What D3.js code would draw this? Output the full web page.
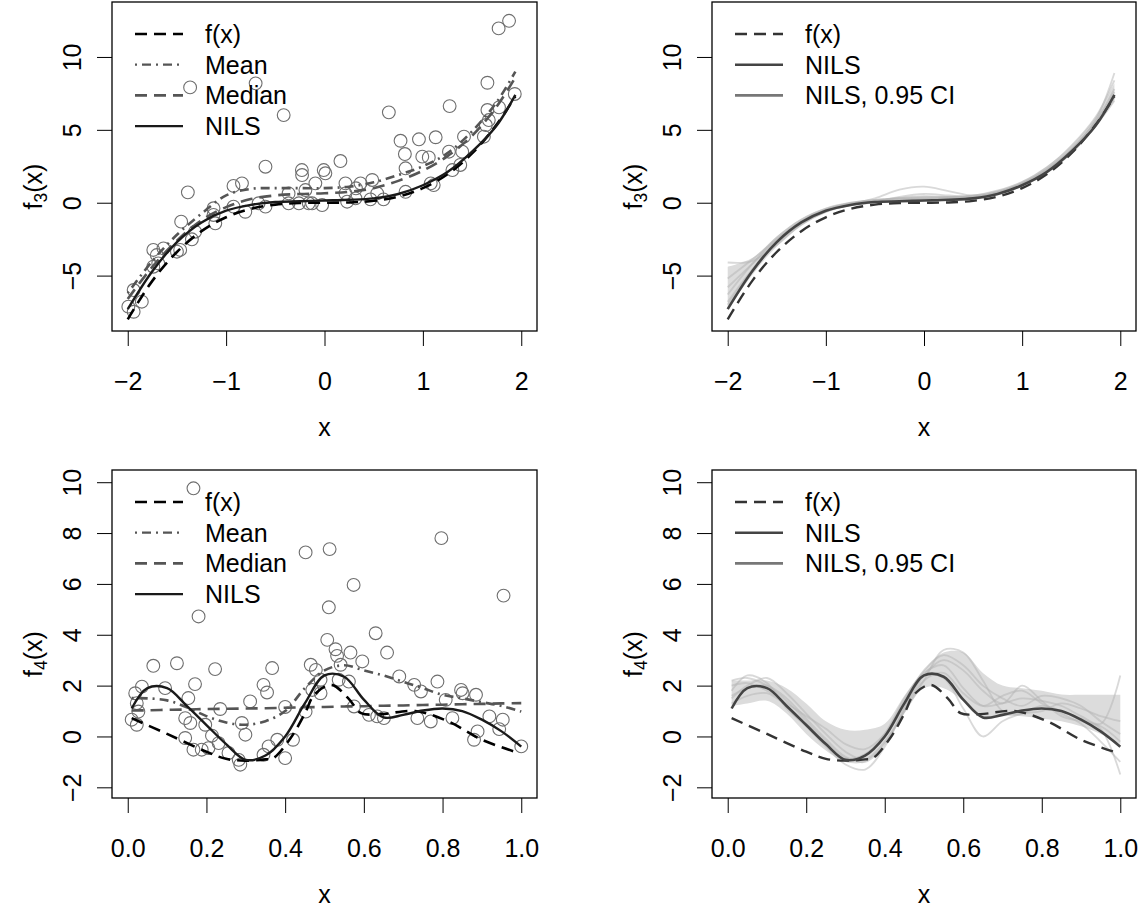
<!DOCTYPE html>
<html>
<head>
<meta charset="utf-8">
<script src="https://cdn.jsdelivr.net/npm/d3@7"></script>
<style>
  body { margin: 0; background: #fff; }
  svg text { font-family: "Liberation Sans", Arial, sans-serif; }
</style>
</head>
<body>
<script>
// ---- data: f3 panels (top row) ----
var xs3 = [-2, -1.75, -1.5, -1.25, -1, -0.75, -0.5, -0.25, 0, 0.25, 0.5, 0.75, 1, 1.25, 1.5, 1.75, 1.94];
var f3True   = [-8, -5.36, -3.38, -1.95, -1, -0.42, -0.13, -0.02, 0, 0.02, 0.13, 0.42, 1, 1.95, 3.38, 5.36, 7.3];
var f3Nils   = [-7.3, -4.7, -2.7, -1.35, -0.55, -0.15, 0.05, 0.1, 0.15, 0.2, 0.3, 0.6, 1.2, 2.1, 3.5, 5.3, 7.4];
var f3Mean   = [-6.2, -4.0, -2.2, -0.75, 0.5, 0.95, 1.0, 1.0, 1.0, 1.1, 1.4, 1.9, 2.5, 3.4, 4.9, 6.9, 9.0];
var f3Median = [-6.6, -4.4, -2.6, -1.2, -0.3, 0.25, 0.5, 0.6, 0.65, 0.75, 1.0, 1.5, 2.2, 3.2, 4.6, 6.6, 8.6];
var f3CiUpper = [-4.4, -3.8, -2.3, -1.1, -0.35, 0.05, 0.25, 0.4, 0.45, 0.45, 0.55, 0.9, 1.5, 2.5, 3.9, 5.9, 8.2];
var f3CiLower = [-7.3, -4.95, -3.0, -1.6, -0.7, -0.25, -0.05, 0.05, 0.1, 0.15, 0.2, 0.5, 1.1, 2.0, 3.3, 5.2, 7.0];
var f3CiRuns = [
  [-7.0, -4.6, -2.6, -1.25, -0.45, -0.05, 0.15, 0.25, 0.3, 0.35, 0.45, 0.75, 1.35, 2.3, 3.7, 5.6, 7.8],
  [-6.3, -4.2, -2.4, -1.15, -0.4, 0.0, 0.2, 0.3, 0.35, 0.4, 0.5, 0.8, 1.4, 2.4, 3.9, 5.9, 8.4],
  [-4.1, -4.0, -2.9, -1.5, -0.6, -0.15, 0.05, 0.15, 0.25, 0.3, 0.35, 0.65, 1.25, 2.2, 3.6, 5.5, 7.6],
  [-5.2, -3.9, -2.5, -1.3, -0.5, -0.1, 0.3, 0.9, 1.1, 0.8, 0.5, 0.7, 1.3, 2.2, 3.5, 5.4, 7.2],
  [-6.8, -4.6, -2.8, -1.45, -0.6, -0.15, 0.05, 0.4, 0.6, 0.5, 0.4, 0.7, 1.3, 2.25, 3.6, 5.7, 8.9],
  [-5.8, -4.2, -2.6, -1.3, -0.5, -0.05, 0.15, 0.3, 0.45, 0.4, 0.35, 0.6, 1.2, 2.1, 3.5, 5.3, 7.0]
];
var pts3X = [-1.366, -0.70, -0.415, -0.60, -0.23, 1.876, 1.77, 1.656, 1.934, 1.272, 0.654, 1.656, 1.774, 0.773, 0.96, 1.13, 1.418, 0.817, 0.994, 1.06,
  1.265, 1.40, 1.62, 1.64, 1.67, 0.162, -0.008, 0.824, 1.38, -0.228, -1.389, -0.925, -0.839, -0.194, -0.365, -0.365, -0.26, -0.16, -0.67, -0.60,
  -0.805, -0.925, -1.128, -1.128, -1.11, -1.457, -1.315, -1.348, -1.467, -1.50, -1.637, -1.74, -1.705, -1.74, -1.69, -1.94, -1.857, -1.994, -1.94,
  0.009, -0.093, 0.213, 0.366, 0.485, 0.32, 0.536, 0.213, -0.126, -0.024, 0.23, 0.315, 0.467, 0.60, 0.824, 1.08, 1.11, 1.30];
var pts3Y = [7.91, 8.19, 6.01, 2.47, 2.24, 12.48, 11.96, 8.23, 7.46, 6.63, 6.2, 6.36, 6.54, 4.25, 4.35, 4.49, 4.53, 3.34, 3.16, 3.11,
  3.5, 3.5, 4.53, 5.33, 5.67, 2.86, 2.24, 2.36, 2.59, 1.9, 0.71, 1.15, 1.33, 0.87, 0.64, -0.04, -0.04, -0.04, -0.04, -0.27,
  -0.62, -0.27, -0.38, -0.84, -1.41, -1.30, -1.99, -2.51, -3.24, -3.36, -3.13, -3.24, -3.59, -4.39, -4.16, -5.99, -6.79, -7.13, -7.48,
  2.02, 1.33, 1.33, 1.33, 1.56, 0.99, 0.64, 0.64, -0.04, -0.16, 0.07, 0.3, 0.23, 0.23, 0.75, 1.33, 1.21, 2.24];

// ---- data: f4 panels (bottom row) ----
var xs4 = [0.01, 0.05, 0.1, 0.15, 0.2, 0.25, 0.3, 0.35, 0.4, 0.45, 0.5, 0.55, 0.6, 0.65, 0.7, 0.75, 0.8, 0.85, 0.9, 0.95, 1.0];
var xs4True = [0.01, 0.1, 0.2, 0.25, 0.3, 0.35, 0.37, 0.414, 0.45, 0.474, 0.517, 0.56, 0.593, 0.644, 0.73, 0.815, 0.9, 0.994];
var f4True  = [0.72, 0.1, -0.6, -0.88, -0.95, -0.9, -0.85, -0.06, 0.9, 1.64, 2.03, 1.51, 0.92, 0.88, 1.0, 0.59, -0.13, -0.65];
var f4Nils  = [1.1, 1.9, 1.9, 1.2, 0.45, -0.3, -0.92, -0.75, 0.0, 1.3, 2.4, 2.35, 1.45, 0.75, 0.85, 1.02, 1.1, 1.0, 0.66, 0.2, -0.4];
var f4Mean  = [1.51, 1.5, 1.42, 1.15, 0.8, 0.55, 0.46, 0.6, 1.0, 1.9, 2.6, 2.8, 2.6, 2.4, 2.15, 1.9, 1.64, 1.5, 1.35, 1.2, 0.98];
var f4Median = [1.02, 1.03, 1.05, 1.06, 1.08, 1.09, 1.1, 1.11, 1.13, 1.15, 1.16, 1.18, 1.19, 1.21, 1.22, 1.24, 1.25, 1.27, 1.28, 1.3, 1.31];
var f4CiUpper = [2.2, 2.2, 2.2, 1.9, 1.3, 0.6, 0.26, 0.26, 0.5, 1.6, 2.6, 3.3, 3.3, 2.5, 2.0, 1.9, 1.8, 1.65, 1.64, 1.64, 1.64];
var f4CiLower = [1.2, 1.3, 1.4, 0.9, 0.1, -0.55, -1.0, -1.0, -0.3, 0.9, 1.9, 1.9, 1.4, 0.8, 0.8, 0.8, 0.7, 0.6, 0.4, 0.1, -0.3];
var f4CiRuns = [
  [2.2, 2.3, 2.0, 1.4, 0.6, -0.2, -0.85, -0.7, 0.1, 1.5, 2.5, 2.8, 1.9, 1.2, 1.3, 1.5, 1.4, 1.2, 0.8, 0.5, 2.4],
  [1.5, 2.0, 2.3, 1.7, 0.9, 0.1, -0.6, -0.9, -0.2, 1.0, 2.2, 3.4, 3.3, 2.2, 1.0, 0.9, 1.2, 1.0, 0.7, 0.3, -1.5],
  [1.8, 2.4, 2.1, 1.1, 0.4, -0.4, -1.1, -1.3, -0.4, 1.1, 2.4, 3.0, 2.6, 1.8, 1.3, 2.0, 1.4, 0.8, 0.6, 0.4, -0.2],
  [1.3, 1.6, 1.7, 1.2, 0.5, -0.3, -0.95, -0.7, 0.0, 1.2, 2.4, 2.3, 1.1, 0.0, 0.6, 0.9, 1.0, 1.3, 1.1, 0.8, 0.6],
  [2.0, 2.1, 1.8, 1.3, 0.8, 0.3, -0.3, -0.5, 0.1, 1.4, 2.6, 3.2, 2.8, 2.0, 1.5, 1.2, 1.6, 1.5, 1.2, 0.6, 0.1],
  [1.6, 1.9, 2.0, 1.5, 0.7, -0.1, -0.8, -1.0, -0.3, 1.0, 2.2, 2.5, 1.7, 1.2, 1.6, 1.8, 1.3, 0.9, 0.5, -0.2, -1.0]
];
var pts4X = [0.167, 0.18, 0.452, 0.513, 0.797, 0.574, 0.511, 0.955, 0.63, 0.507, 0.528, 0.532, 0.566, 0.596, 0.659, 0.465, 0.478, 0.541, 0.49, 0.536,
  0.562, 0.469, 0.49, 0.575, 0.613, 0.634, 0.651, 0.69, 0.728, 0.745, 0.787, 0.736, 0.77, 0.808, 0.825, 0.847, 0.851, 0.885, 0.889, 0.88,
  0.919, 0.953, 0.944, 1.0, 0.065, 0.125, 0.222, 0.367, 0.019, 0.036, 0.095, 0.171, 0.345, 0.354, 0.023, 0.027, 0.154, 0.235, 0.311, 0.40,
  0.452, 0.01, 0.023, 0.146, 0.159, 0.197, 0.29, 0.299, 0.146, 0.214, 0.231, 0.167, 0.188, 0.205, 0.256, 0.282, 0.286, 0.345, 0.358, 0.38, 0.40, 0.42];
var pts4Y = [9.76, 4.72, 7.24, 7.37, 7.8, 5.96, 5.08, 5.54, 4.06, 3.8, 3.43, 3.17, 3.3, 2.95, 3.3, 2.82, 2.62, 2.82, 2.23, 2.23,
  2.16, 1.83, 1.7, 1.18, 0.85, 0.79, 0.72, 2.36, 2.03, 1.77, 2.16, 0.72, 0.59, 1.44, 0.72, 1.83, 1.7, 1.64, 0.2, -0.13,
  0.79, 0.66, 0.29, -0.39, 2.78, 2.88, 2.65, 2.69, 1.7, 1.96, 1.9, 2.06, 2.03, 1.73, 1.31, 0.98, 1.51, 1.08, 1.38, 1.16,
  0.98, 0.66, 0.46, 0.72, 0.53, 0.46, 0.53, 0.07, -0.06, 0.03, -0.26, -0.52, -0.52, -0.46, -0.65, -0.92, -1.11, -0.72, -0.39, -0.13, -0.85, -0.13];

var ticks3X = [-2, -1, 0, 1, 2], ticks3Y = [-5, 0, 5, 10];
var ticks4X = [0, 0.2, 0.4, 0.6, 0.8, 1.0], ticks4Y = [-2, 0, 2, 4, 6, 8, 10];

// ---- drawing ----
var FS = 25;  //base R cex text size at this resolution

var svg = d3.select("body").append("svg")
    .attr("width", 1145)
    .attr("height", 909);

function makePanel(id, box, xDom, yDom, xTicks, yTicks, xFmt, sub){
    var x = d3.scaleLinear().domain(xDom).range([box.left, box.right]);
    var y = d3.scaleLinear().domain(yDom).range([box.bottom, box.top]);

    svg.append("clipPath").attr("id", id)
      .append("rect")
        .attr("x", box.left).attr("y", box.top)
        .attr("width", box.right - box.left).attr("height", box.bottom - box.top);

    var g = svg.append("g");
    var plot = g.append("g").attr("clip-path", "url(#" + id + ")");

    //x axis
    var xa = g.append("g")
        .attr("transform", "translate(0," + box.bottom + ")")
        .call(d3.axisBottom(x).tickValues(xTicks).tickSize(15).tickSizeOuter(0).tickFormat(xFmt));
    xa.select(".domain").remove();
    xa.selectAll(".tick text")
        .attr("y", 50).attr("dy", "0.36em")
        .style("font-size", FS + "px").attr("fill", "#000");

    //y axis, labels rotated like base R
    var ya = g.append("g")
        .attr("transform", "translate(" + box.left + ",0)")
        .call(d3.axisLeft(y).tickValues(yTicks).tickSize(15).tickSizeOuter(0).tickFormat(d3.format("d")));
    ya.select(".domain").remove();
    ya.selectAll(".tick text")
        .attr("transform", "rotate(-90)")
        .attr("x", 0).attr("y", -40).attr("dy", "0.36em")
        .attr("text-anchor", "middle")
        .style("font-size", FS + "px").attr("fill", "#000");
    g.selectAll(".tick line").attr("stroke", "#000");

    //axis titles
    g.append("text")
        .attr("x", (box.left + box.right) / 2).attr("y", box.bottom + 96).attr("dy", "0.36em")
        .attr("text-anchor", "middle")
        .style("font-size", FS + "px")
        .text("x");
    var yt = g.append("text")
        .attr("transform", "translate(" + (box.left - 79) + "," + ((box.top + box.bottom) / 2 + 20) + ") rotate(-90)")
        .attr("text-anchor", "middle")
        .attr("dy", "0.36em")
        .style("font-size", FS + "px");
    yt.append("tspan").text("f");
    yt.append("tspan").attr("dy", "0.3em").style("font-size", (FS * 0.7) + "px").text(sub);
    yt.append("tspan").attr("dy", "-0.21em").text("(x)");

    return {x: x, y: y, g: g, plot: plot, box: box};
}

function drawLine(p, xs, ys, style){
    var line = d3.line()
        .x(function(d){ return p.x(d[0]); })
        .y(function(d){ return p.y(d[1]); })
        .curve(d3.curveCatmullRom.alpha(0.5));
    p.plot.append("path")
        .datum(d3.zip(xs, ys))
        .attr("d", line)
        .attr("fill", "none")
        .attr("stroke", style.color)
        .attr("stroke-width", style.width)
        .attr("stroke-opacity", style.opacity || 1)
        .attr("stroke-dasharray", style.dash || null);
}

function drawBand(p, xs, lo, hi){
    var area = d3.area()
        .x(function(d){ return p.x(d[0]); })
        .y0(function(d){ return p.y(d[1]); })
        .y1(function(d){ return p.y(d[2]); })
        .curve(d3.curveCatmullRom.alpha(0.5));
    p.plot.append("path")
        .datum(d3.zip(xs, lo, hi))
        .attr("d", area)
        .attr("fill", "#dcdcdc")
        .attr("stroke", "none");
}

function drawPoints(p, xs, ys){
    p.plot.selectAll("circle.pt")
        .data(d3.zip(xs, ys))
        .enter().append("circle")
        .attr("class", "pt")
        .attr("cx", function(d){ return p.x(d[0]); })
        .attr("cy", function(d){ return p.y(d[1]); })
        .attr("r", 6.4)
        .attr("fill", "none")
        .attr("stroke", "#6e6e6e")
        .attr("stroke-width", 1.1);
}

function drawBox(p){
    var b = p.box;
    p.g.append("rect")
        .attr("x", b.left).attr("y", b.top)
        .attr("width", b.right - b.left).attr("height", b.bottom - b.top)
        .attr("fill", "none").attr("stroke", "#000").attr("stroke-width", 1.3);
}

function drawLegend(p, items){
    var b = p.box;
    items.forEach(function(it, i){
        var yy = b.top + 32 + i * 30.7;
        p.g.append("line")
            .attr("x1", b.left + 23).attr("x2", b.left + 71)
            .attr("y1", yy).attr("y2", yy)
            .attr("stroke", it.color).attr("stroke-width", it.width)
            .attr("stroke-dasharray", it.dash || null);
        p.g.append("text")
            .attr("x", b.left + 93).attr("y", yy).attr("dy", "0.36em")
            .style("font-size", FS + "px")
            .text(it.label);
    });
}

var fmt3 = d3.format("d"), fmt4 = d3.format(".1f");

var sFTrue  = {color: "#000", width: 2.6, dash: "12,7"};
var sMean   = {color: "#555", width: 2.6, dash: "2,5,9,5"};
var sMedian = {color: "#555", width: 2.6, dash: "12,7"};
var sNils   = {color: "#1a1a1a", width: 2.4};
var sFTrueR = {color: "#333", width: 2.4, dash: "12,7"};
var sNilsR  = {color: "#444", width: 2.6};
var sCi     = {color: "#b4b4b4", width: 1.8, opacity: 0.5};

//top-left
var p1 = makePanel("c1", {left: 112, right: 537, top: 2, bottom: 331}, [-2.16, 2.16], [-8.8, 13.77], ticks3X, ticks3Y, fmt3, "3");
drawPoints(p1, pts3X, pts3Y);
drawLine(p1, xs3, f3Mean, sMean);
drawLine(p1, xs3, f3Median, sMedian);
drawLine(p1, xs3, f3True, sFTrue);
drawLine(p1, xs3, f3Nils, sNils);
drawBox(p1);
drawLegend(p1, [
    {label: "f(x)", color: sFTrue.color, width: 2.6, dash: sFTrue.dash},
    {label: "Mean", color: sMean.color, width: 2.2, dash: sMean.dash},
    {label: "Median", color: sMedian.color, width: 2.6, dash: sMedian.dash},
    {label: "NILS", color: sNils.color, width: 2.4}
]);

//top-right
var p2 = makePanel("c2", {left: 712, right: 1136, top: 2, bottom: 331}, [-2.16, 2.16], [-8.8, 13.77], ticks3X, ticks3Y, fmt3, "3");
drawBand(p2, xs3, f3CiLower, f3CiUpper);
f3CiRuns.forEach(function(r){ drawLine(p2, xs3, r, sCi); });
drawLine(p2, xs3, f3True, sFTrueR);
drawLine(p2, xs3, f3Nils, sNilsR);
drawBox(p2);
drawLegend(p2, [
    {label: "f(x)", color: sFTrueR.color, width: 2.4, dash: sFTrueR.dash},
    {label: "NILS", color: sNilsR.color, width: 2.6},
    {label: "NILS, 0.95 CI", color: "#777", width: 2.6}
]);

//bottom-left
var p3 = makePanel("c3", {left: 112, right: 537, top: 470, bottom: 798}, [-0.04, 1.04], [-2.42, 10.48], ticks4X, ticks4Y, fmt4, "4");
drawPoints(p3, pts4X, pts4Y);
drawLine(p3, xs4, f4Mean, sMean);
drawLine(p3, xs4, f4Median, sMedian);
drawLine(p3, xs4True, f4True, sFTrue);
drawLine(p3, xs4, f4Nils, sNils);
drawBox(p3);
drawLegend(p3, [
    {label: "f(x)", color: sFTrue.color, width: 2.6, dash: sFTrue.dash},
    {label: "Mean", color: sMean.color, width: 2.2, dash: sMean.dash},
    {label: "Median", color: sMedian.color, width: 2.6, dash: sMedian.dash},
    {label: "NILS", color: sNils.color, width: 2.4}
]);

//bottom-right
var p4 = makePanel("c4", {left: 712, right: 1136, top: 470, bottom: 798}, [-0.04, 1.04], [-2.42, 10.48], ticks4X, ticks4Y, fmt4, "4");
drawBand(p4, xs4, f4CiLower, f4CiUpper);
f4CiRuns.forEach(function(r){ drawLine(p4, xs4, r, sCi); });
drawLine(p4, xs4True, f4True, sFTrueR);
drawLine(p4, xs4, f4Nils, sNilsR);
drawBox(p4);
drawLegend(p4, [
    {label: "f(x)", color: sFTrueR.color, width: 2.4, dash: sFTrueR.dash},
    {label: "NILS", color: sNilsR.color, width: 2.6},
    {label: "NILS, 0.95 CI", color: "#777", width: 2.6}
]);
</script>
</body>
</html>
